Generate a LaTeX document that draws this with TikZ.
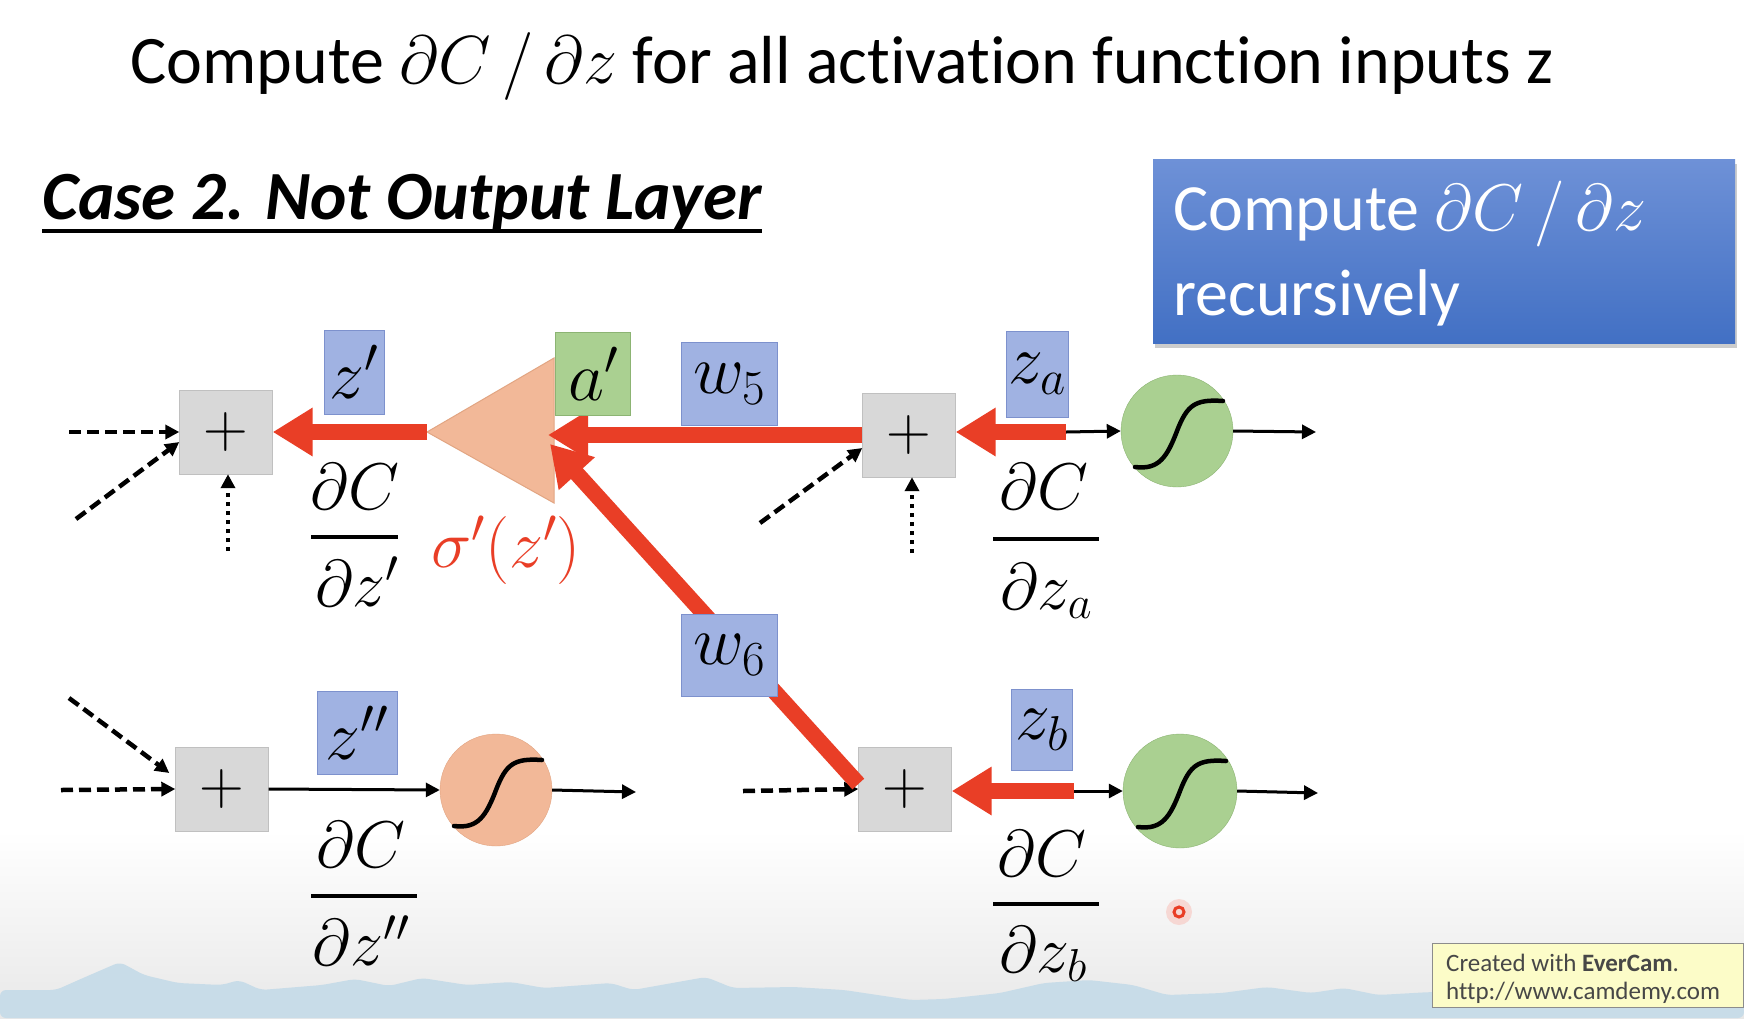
\RequirePackage{fix-cm}
\documentclass[tikz,border=0pt]{standalone}
\usepackage{fontspec}
\setmainfont{Carlito}[Ligatures=NoCommon]
\usetikzlibrary{arrows.meta,shadows}
\definecolor{redA}{RGB}{233,62,38}
\definecolor{plusfill}{RGB}{216,216,216}
\definecolor{plusdraw}{RGB}{192,192,192}
\definecolor{lbfill}{RGB}{160,178,226}
\definecolor{lbdraw}{RGB}{125,145,205}
\definecolor{grfill}{RGB}{170,208,145}
\definecolor{grdraw}{RGB}{140,180,115}
\definecolor{orfill}{RGB}{242,184,152}
\definecolor{ordraw}{RGB}{226,165,130}
\definecolor{rectop}{RGB}{110,145,215}
\definecolor{recbot}{RGB}{66,112,196}
\definecolor{mount}{RGB}{200,220,232}
\definecolor{wmfill}{RGB}{252,252,200}
\begin{document}
\begin{tikzpicture}[x=1pt,y=-1pt,
  plusbox/.style={draw=plusdraw, fill=plusfill, minimum width=93pt, minimum height=84pt, inner sep=0pt, font=\fontsize{62}{62}\selectfont},
  lbl/.style={draw=lbdraw, fill=lbfill, inner sep=0pt, minimum height=84pt, font=\fontsize{70}{70}\selectfont},
  lblg/.style={lbl, draw=grdraw, fill=grfill},
  siggreen/.style={circle, draw=grdraw, fill=grfill, minimum size=112pt, inner sep=0pt},
  sigorange/.style={circle, draw=ordraw, fill=orfill, minimum size=112pt, inner sep=0pt},
  redarrow/.style={draw=redA, line width=16pt, -{Triangle[length=40pt,width=46pt]}},
  blkarrow/.style={draw=black, line width=3pt, -{Triangle[length=14pt,width=14pt]}},
  dasharrow/.style={draw=black, line width=4.5pt, dash pattern=on 12pt off 6pt, -{Triangle[length=14pt,width=14pt]}},
  dotarrow/.style={draw=black, line width=4.5pt, dash pattern=on 4pt off 5pt, -{Triangle[length=14pt,width=14pt]}},
  fr/.style={anchor=base, inner sep=0pt, font=\fontsize{66}{66}\selectfont},
  fbar/.style={line width=4pt},
  sigcurve/.style={line width=4.5pt, line cap=round}
]
\useasboundingbox (0,0) rectangle (1744,1018);
\fill[white] (0,0) rectangle (1744,1018);
\shade[top color=white,bottom color=black!9] (0,830) rectangle (1744,1018);
\fill[mount, rounded corners=6pt] (0,1018) -- (0,990) -- (56,990) -- (83,978) -- (120,962) -- (144,975) -- (178,983) -- (222,985) -- (239,980) -- (261,990) -- (322,985) -- (355,979) -- (389,986) -- (422,978) -- (467,985) -- (511,982) -- (544,988) -- (611,983) -- (633,990) -- (706,977) -- (733,988) -- (794,987) -- (844,990) -- (911,1000) -- (944,999) -- (1000,993) -- (1044,983) -- (1089,980) -- (1133,985) -- (1167,995) -- (1222,993) -- (1267,987) -- (1311,993) -- (1344,988) -- (1378,995) -- (1431,992) -- (1600,1003) -- (1744,1000) -- (1744,1018) -- cycle;

% titles
\node[anchor=base, inner sep=0pt, font=\fontsize{68}{80}\selectfont] (title) at (842,83) {Compute $\partial C\,/\,\partial z$ for all activation function inputs z};
\node[anchor=base west, inner sep=0pt, font=\fontsize{69}{75}\selectfont\bfseries\itshape] (case) at (42,219) {Case 2. Not Output Layer};
\draw[line width=3.5pt] ([yshift=-12pt]case.base west) -- ([yshift=-12pt]case.base east);

\node[draw=none, top color=rectop, bottom color=recbot, minimum width=582pt, minimum height=184pt, inner sep=0pt,
      drop shadow={shadow xshift=2pt, shadow yshift=-5pt, opacity=0.4}] (rec) at (1444,251) {};
\node[anchor=base west, inner sep=0pt, text=white, font=\fontsize{66}{80}\selectfont] (rec1) at (1173,230) {Compute $\partial C\,/\,\partial z$};
\node[anchor=base west, inner sep=0pt, text=white, font=\fontsize{66}{80}\selectfont] (rec2) at (1173,315) {recursively};

% triangle (activation derivative)
\filldraw[fill=orfill, draw=ordraw, line width=1pt] (427,432) -- (554,358) -- (554,503) -- cycle;
\coordinate (tL) at (427,432);
\coordinate (tR) at (548,435);
\coordinate (tD) at (550,444);

% plus boxes
\node[plusbox] (p1) at (226,432) {$+$};
\node[plusbox] (p2) at (909,435) {$+$};
\node[plusbox] (p3) at (222,789) {$+$};
\node[plusbox] (p4) at (905,789) {$+$};

% sigmoid neurons
\node[siggreen] (sa) at (1177,431) {};
\node[siggreen, minimum size=114pt] (sb) at (1180,791) {};
\node[sigorange] (so) at (496,790) {};
\foreach \n in {sa,sb,so}{
  \begin{scope}[shift={(\n.center)}]
    \draw[sigcurve] (-42,36) .. controls (-18,39) and (-10,26) .. (0,0) .. controls (10,-26) and (18,-32) .. (46,-30);
  \end{scope}
}

% free ends
\coordinate (ja) at (1066,432);
\coordinate (jb) at (1074,791);
\coordinate (oa) at (1316,432);
\coordinate (ob) at (1318,793);
\coordinate (oo) at (636,792);
\coordinate (d1a) at (69,432);
\coordinate (d1b) at (76,519);
\coordinate (d1c) at (228,551);
\coordinate (d2b) at (760,523);
\coordinate (d2c) at (912,553);
\coordinate (d3a) at (61,790);
\coordinate (d3b) at (69,698);
\coordinate (d4a) at (743,791);

% black forward arrows
\draw[blkarrow] (ja) -- (sa.west);
\draw[blkarrow] (sa.east) -- (oa);
\draw[blkarrow] (p3.east) -- (so.west);
\draw[blkarrow] (so.east) -- (oo);
\draw[blkarrow] (jb) -- (sb.west);
\draw[blkarrow] (sb.east) -- (ob);

% dashed / dotted inputs
\draw[dasharrow] (d1a) -- (p1.west);
\draw[dasharrow] (d1b) -- ([yshift=-10pt]p1.west);
\draw[dotarrow] (d1c) -- (d1c |- p1.south);
\draw[dasharrow] (d2b) -- ([yshift=-13pt]p2.west);
\draw[dotarrow] (d2c) -- (d2c |- p2.south);
\draw[dasharrow] (d3a) -- (p3.west);
\draw[dasharrow] (d3b) -- ([xshift=-6pt,yshift=16pt]p3.west);
\draw[dasharrow] (d4a) -- (p4.west);

% red backward arrows
\draw[redarrow] (tL) -- (tL -| p1.east);
\draw[redarrow] (p2.west) -- (tR);
\draw[redarrow] ([yshift=5pt]p4.west) -- (tD);
\draw[redarrow] (ja) -- (ja -| p2.east);
\draw[redarrow] (jb) -- (jb -| p4.east);

% variable labels
\node[lbl, minimum width=60pt] (lz1) at (354,372) {$z'$};
\node[lblg, minimum width=75pt, minimum height=83pt] (la) at (593,374) {$a'$};
\node[lbl, minimum width=96pt, minimum height=83pt] (lw5) at (729,384) {$w_5$};
\node[lbl, minimum width=96pt, minimum height=82pt] (lw6) at (729,655) {$w_6$};
\node[lbl, minimum width=62pt, minimum height=86pt] (lza) at (1037,374) {$z_a$};
\node[lbl, minimum width=61pt, minimum height=81pt] (lzb) at (1042,730) {$z_b$};
\node[lbl, minimum width=80pt, minimum height=83pt] (lz2) at (357,733) {$z''$};

\node[text=redA, inner sep=0pt, font=\fontsize{68}{68}\selectfont] (sig) at (506,550) {$\sigma'(z')$};

% fractions
\node[fr] (n1) at (355,509) {$\partial C$};
\draw[fbar] (311,537) -- (398,537);
\node[fr] (e1) at (357,606) {$\partial z'$};

\node[fr] (n2) at (1044,509) {$\partial C$};
\draw[fbar] (993,539) -- (1099,539);
\node[fr] (e2) at (1046,609) {$\partial z_a$};

\node[fr] (n3) at (361,867) {$\partial C$};
\draw[fbar] (311,896) -- (417,896);
\node[fr] (e3) at (361,965) {$\partial z''$};

\node[fr] (n4) at (1042,876) {$\partial C$};
\draw[fbar] (993,904) -- (1099,904);
\node[fr] (e4) at (1043,972) {$\partial z_b$};

% cursor mark
\fill[redA!30, opacity=0.6] (1179,912) circle (13);
\draw[redA, line width=3pt] (1179,912) circle (5);

% watermark
\node[draw=black!45, fill=wmfill, minimum width=311pt, minimum height=64pt, anchor=north west, inner sep=0pt] (wm) at (1432,943) {};
\node[anchor=base west, inner sep=0pt, text=black!72, font=\fontsize{25}{25}\selectfont] (wm1) at (1446,971) {Created with \textbf{EverCam}.};
\node[anchor=base west, inner sep=0pt, text=black!72, font=\fontsize{25}{25}\selectfont] (wm2) at (1446,999) {http://www.camdemy.com};
\end{tikzpicture}
\end{document}
